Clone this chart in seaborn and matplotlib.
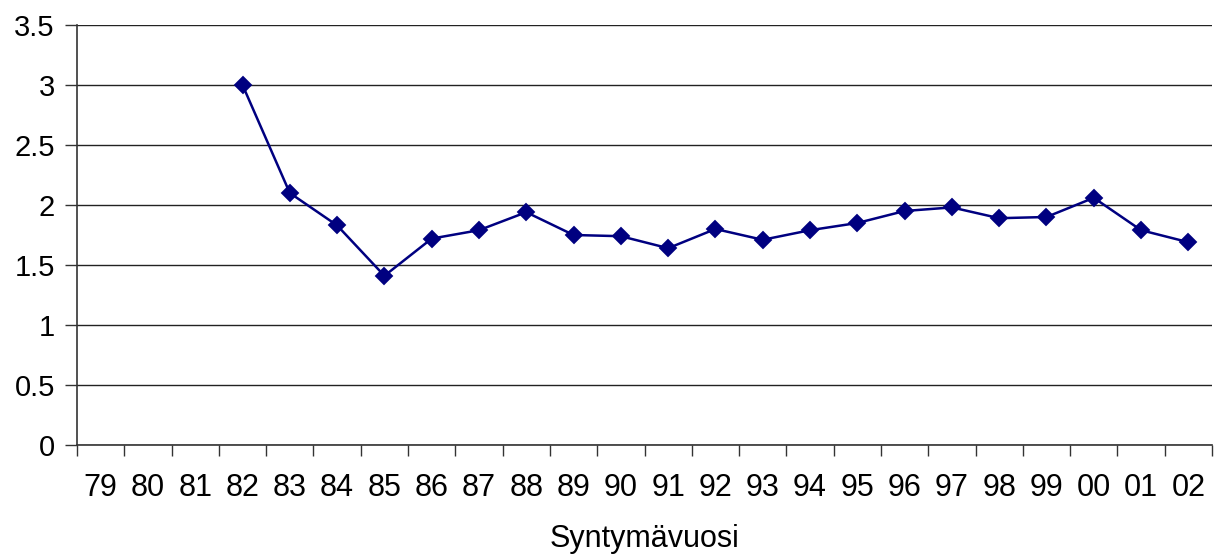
import matplotlib
matplotlib.use("Agg")
import matplotlib.pyplot as plt
import seaborn as sns
import pandas as pd
import numpy as np
from matplotlib.ticker import FixedLocator

years = ["79", "80", "81", "82", "83", "84", "85", "86", "87", "88", "89", "90",
         "91", "92", "93", "94", "95", "96", "97", "98", "99", "00", "01", "02"]
values = [np.nan, np.nan, np.nan, 3.00, 2.10, 1.83, 1.41, 1.72, 1.79, 1.94, 1.75, 1.74,
          1.64, 1.80, 1.71, 1.79, 1.85, 1.95, 1.98, 1.89, 1.90, 2.06, 1.79, 1.69]
y_ticks = [0, 0.5, 1, 1.5, 2, 2.5, 3, 3.5]
y_ticklabels = ["0", "0.5", "1", "1.5", "2", "2.5", "3", "3.5"]
x_title = "Syntymävuosi"

sns.set_theme(style="white")
plt.rcParams["font.family"] = ["Liberation Sans", "DejaVu Sans"]

df = pd.DataFrame({"year": years, "value": values}).dropna()

fig = plt.figure(figsize=(12.15, 5.54), dpi=100)
ax = fig.add_axes([77 / 1215, 1 - 445 / 554, (1212 - 77) / 1215, (445 - 25) / 554])

sns.pointplot(data=df, x="year", y="value", order=years, color="#000080",
              markers="D", linestyles="-", errorbar=None, ax=ax,
              markersize=8, linewidth=1.8)

ax.set_xlim(-0.5, len(years) - 0.5)
ax.set_ylim(0, 3.5)
ax.set_yticks(y_ticks)
ax.set_yticklabels(y_ticklabels, fontsize=21)
ax.set_xticks(range(len(years)))
ax.set_xticklabels(years, fontsize=22)
ax.yaxis.grid(True, color="#222222", linewidth=1.0)
ax.xaxis.grid(False)
ax.set_axisbelow(True)

ax.xaxis.set_minor_locator(FixedLocator(np.arange(-0.5, len(years), 1.0)))
ax.tick_params(axis="x", which="major", length=0, pad=20.5, colors="black")
ax.tick_params(axis="x", which="minor", length=8, width=1, color="#333333", direction="out", bottom=True)
ax.tick_params(axis="y", which="major", length=9, width=1, color="#333333", direction="out",
               pad=7, left=True, labelcolor="black")

for s in ["top", "right"]:
    ax.spines[s].set_visible(False)
for s in ["left", "bottom"]:
    ax.spines[s].set_color("#333333")
    ax.spines[s].set_linewidth(1.2)

ax.set_xlabel(x_title, fontsize=22, labelpad=15, color="black")
ax.set_ylabel("")

fig.savefig("out.png", dpi=100)
